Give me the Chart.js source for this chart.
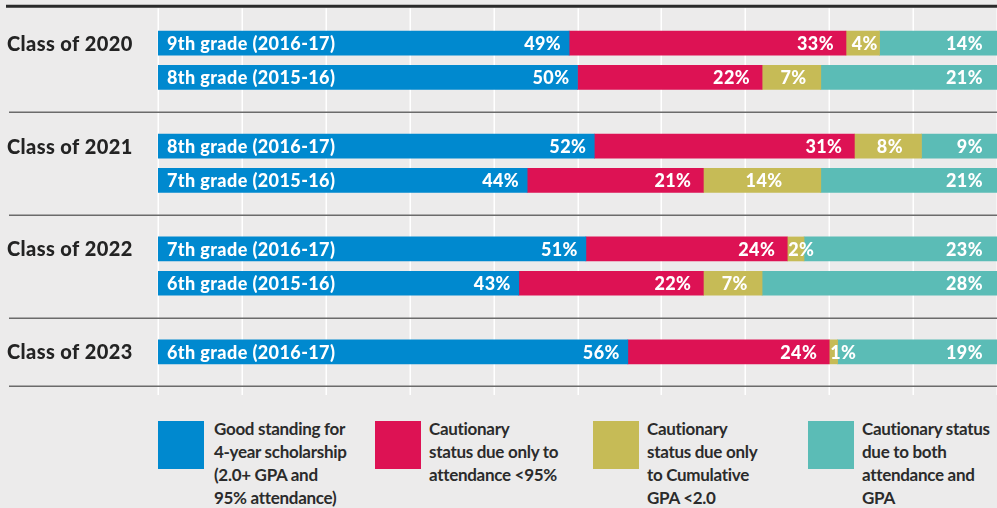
<!DOCTYPE html>
<html>
<head>
<meta charset="utf-8">
<script src="https://cdn.jsdelivr.net/npm/chart.js@4"></script>
<style>
  body { margin: 0; background: #ecebeb; }
  #wrap { position: relative; width: 997px; height: 508px; overflow: hidden; }
  #chart { position: absolute; left: 0; top: 0; }
  .key { position: absolute; top: 421px; }
  .key .sw { position: absolute; left: 0; top: 0; width: 46px; height: 48px; }
  .key .txt {
    position: absolute; top: -4px; white-space: pre; color: #2b2b2b;
    font: 700 17px/23px Lato, sans-serif; letter-spacing: -0.3px;
  }
</style>
</head>
<body>
<div id="wrap">
  <canvas id="chart" width="997" height="395"></canvas>
</div>
<script>
// rows (blank entries are spacer rows between the classes)
const classNames = ["Class of 2020", "", "", "Class of 2021", "", "", "Class of 2022", "", "", "Class of 2023"];
const rowNames = ["9th grade (2016-17)", "8th grade (2015-16)", "",
                  "8th grade (2016-17)", "7th grade (2015-16)", "",
                  "7th grade (2016-17)", "6th grade (2015-16)", "",
                  "6th grade (2016-17)"];

const goodStanding = [49, 50, null, 52, 44, null, 51, 43, null, 56];
const attendanceOnly = [33, 22, null, 31, 21, null, 24, 22, null, 24];
const gpaOnly = [4, 7, null, 8, 14, null, 2, 7, null, 1];
const bothAttGpa = [14, 21, null, 9, 21, null, 23, 28, null, 19];

const seriesNames = [
  "Good standing for\n4-year scholarship\n(2.0+ GPA and\n95% attendance)",
  "Cautionary\nstatus due only to\nattendance <95%",
  "Cautionary\nstatus due only\nto Cumulative\nGPA <2.0",
  "Cautionary status\ndue to both\nattendance and\nGPA"
];
const colors = ["#0089cf", "#dd1254", "#c6bb56", "#5bbcb6"];
const series = [goodStanding, attendanceOnly, gpaOnly, bothAttGpa];

// legend as html
const keyLeft = [158, 375, 593, 808];
const wrap = document.getElementById("wrap");
seriesNames.forEach((name, i) => {
  const k = document.createElement("div");
  k.className = "key";
  k.style.left = keyLeft[i] + "px";
  k.innerHTML = '<div class="sw" style="background:' + colors[i] + '"></div>';
  const t = document.createElement("div");
  t.className = "txt";
  t.style.left = (i == 0 ? 56 : 54) + "px";
  t.textContent = name;
  k.appendChild(t);
  wrap.appendChild(k);
});

const decor = {
  id: "decor",
  beforeDatasetsDraw(chart) {
    const { ctx, scales: { x, y } } = chart;
    const y0 = y.getPixelForValue(0);
    const pitch = y.getPixelForValue(1) - y0;
    const topY = y0 - 37;
    const bottomY = y0 + rowNames.length * pitch;
    ctx.save();
    // white grid
    ctx.strokeStyle = "#ffffff";
    ctx.lineWidth = 1.5;
    for (let v = 0; v <= 100; v += 10) {
      const px = Math.round(x.getPixelForValue(v)) + 0.25;
      ctx.beginPath();
      ctx.moveTo(px, topY + 2);
      ctx.lineTo(px, bottomY + 10);
      ctx.stroke();
    }
    // top rule
    ctx.strokeStyle = "#2a2a2a";
    ctx.lineWidth = 3;
    ctx.beginPath();
    ctx.moveTo(6, topY);
    ctx.lineTo(chart.width, topY);
    ctx.stroke();
    // separators
    ctx.strokeStyle = "#6b6b6b";
    ctx.lineWidth = 1.5;
    const seps = [];
    rowNames.forEach((r, i) => { if (r === "") seps.push(y0 + i * pitch); });
    seps.push(bottomY);
    seps.forEach(sy => {
      ctx.beginPath();
      ctx.moveTo(9, Math.round(sy) + 0.25);
      ctx.lineTo(chart.width, Math.round(sy) + 0.25);
      ctx.stroke();
    });
    ctx.restore();
  },
  afterDatasetsDraw(chart) {
    const { ctx, scales: { x, y } } = chart;
    ctx.save();
    ctx.textBaseline = "middle";
    rowNames.forEach((r, i) => {
      if (r === "") return;
      const yc = y.getPixelForValue(i) + 1;
      if (classNames[i]) {
        ctx.fillStyle = "#232323";
        ctx.textAlign = "left";
        ctx.font = "900 20px Lato";
        ctx.letterSpacing = "0.4px";
        ctx.fillText(classNames[i], 7, yc);
      }
      ctx.fillStyle = "#ffffff";
      ctx.font = "900 18px Lato";
      ctx.letterSpacing = "0.4px";
      ctx.textAlign = "left";
      ctx.fillText(r, x.getPixelForValue(0) + 9, yc);
      let start = 0;
      series.forEach((s, d) => {
        const v = s[i];
        const a = x.getPixelForValue(start), b = x.getPixelForValue(start + v);
        const txt = v + "%";
        if (d == 2) {
          if (b - a < 30) {
            ctx.textAlign = "left";
            ctx.fillText(txt, a + 1, yc);
          } else {
            ctx.textAlign = "center";
            ctx.fillText(txt, (a + b) / 2 + 2, yc);
          }
        } else if (d == 3) {
          ctx.textAlign = "right";
          ctx.fillText(txt, b - 14, yc);
        } else {
          ctx.textAlign = "right";
          ctx.fillText(txt, b - (d == 1 ? 12 : 8), yc);
        }
        start += v;
      });
    });
    ctx.restore();
  }
};

new Chart(document.getElementById("chart"), {
  type: "bar",
  data: {
    labels: rowNames,
    datasets: series.map((s, i) => ({
      label: seriesNames[i],
      data: s,
      backgroundColor: colors[i],
      borderWidth: 0,
      barThickness: 24
    }))
  },
  options: {
    indexAxis: "y",
    responsive: false,
    animation: false,
    layout: { padding: { left: 158, right: 0, top: 26, bottom: 26 } },
    scales: {
      x: { stacked: true, min: 0, max: 100, display: false },
      y: { stacked: true, display: false }
    },
    plugins: { legend: { display: false }, tooltip: { enabled: false } }
  },
  plugins: [decor]
});
</script>
</body>
</html>
